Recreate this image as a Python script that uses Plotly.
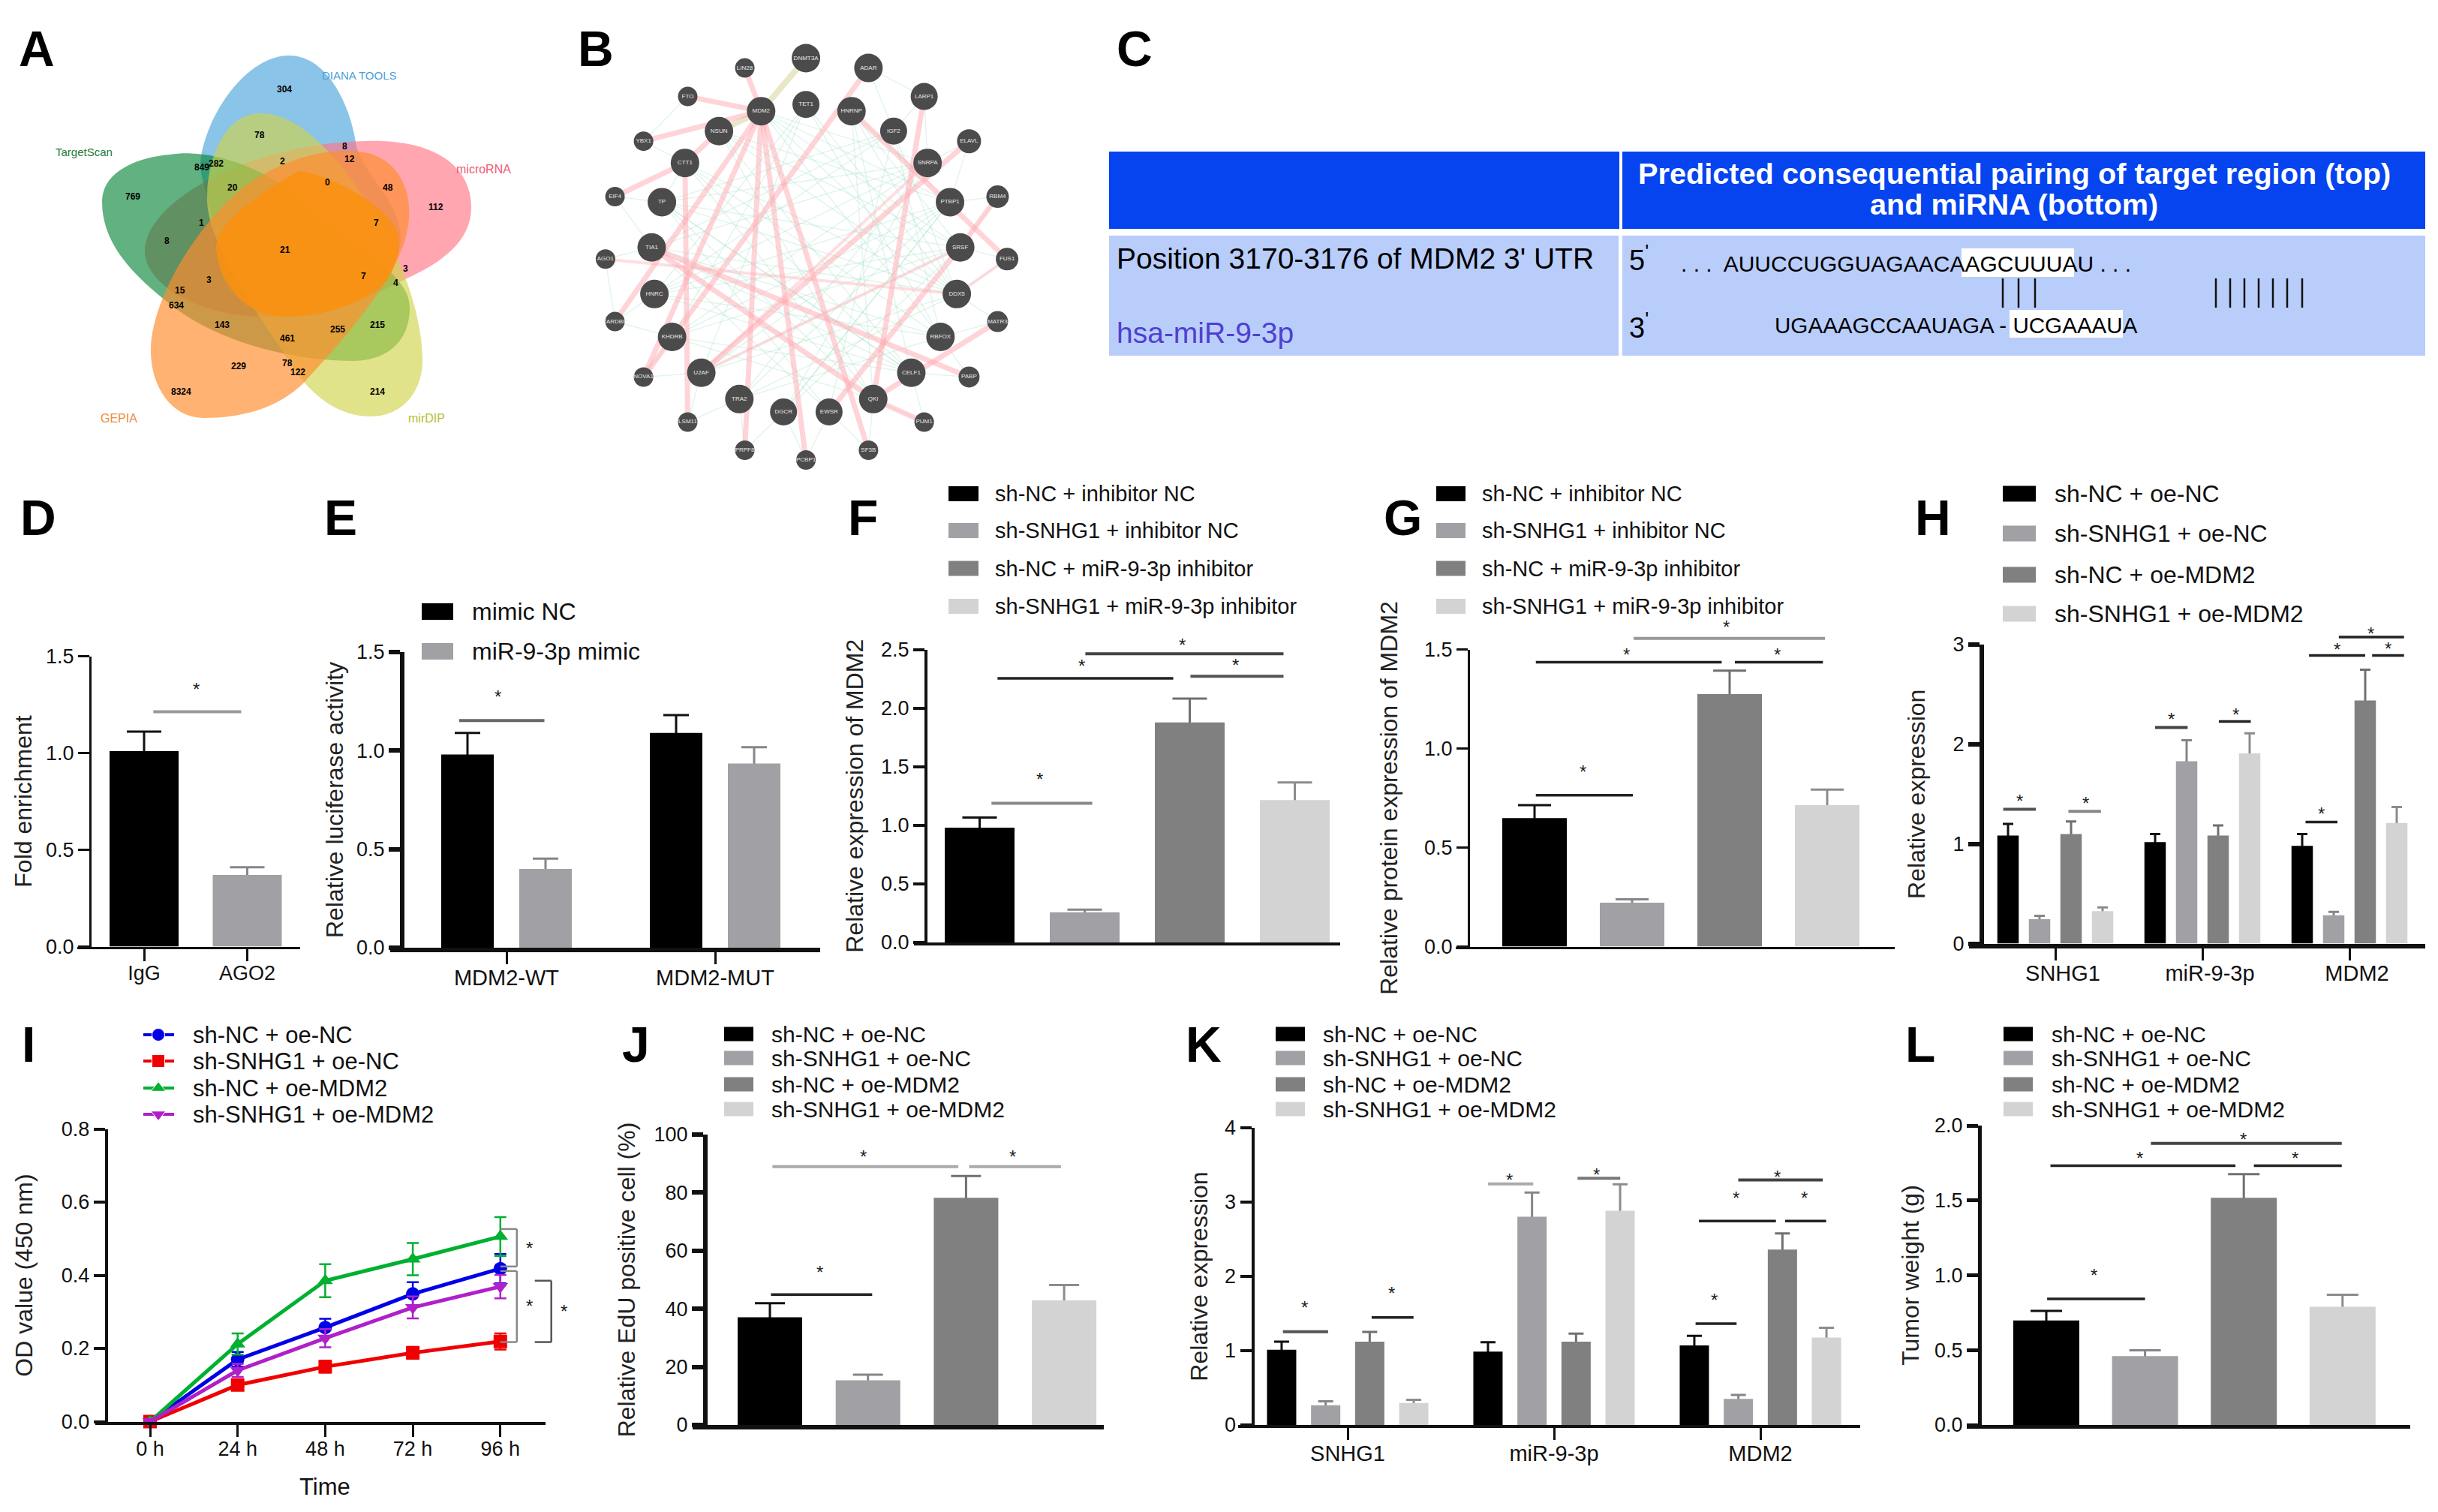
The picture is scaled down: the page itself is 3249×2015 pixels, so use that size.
import plotly.graph_objects as go

W, H = 3249, 2015
FONT = "Liberation Sans"

# ---------- data ----------
D_cats = ["IgG", "AGO2"]
D_vals = [1.01, 0.37]
D_errs = [0.10, 0.04]
E_cats = ["MDM2-WT", "MDM2-MUT"]
E_names = ["mimic NC", "miR-9-3p mimic"]
E_vals = [[0.98, 1.09], [0.40, 0.935]]
E_errs = [[0.11, 0.09], [0.052, 0.082]]
F_names = ["sh-NC + inhibitor NC", "sh-SNHG1 + inhibitor NC", "sh-NC + miR-9-3p inhibitor", "sh-SNHG1 + miR-9-3p inhibitor"]
F_vals = [0.98, 0.257, 1.877, 1.214]
F_errs = [0.086, 0.023, 0.203, 0.152]
G_vals = [0.649, 0.2215, 1.275, 0.714]
G_errs = [0.065, 0.017, 0.118, 0.079]
OE_names = ["sh-NC + oe-NC", "sh-SNHG1 + oe-NC", "sh-NC + oe-MDM2", "sh-SNHG1 + oe-MDM2"]
H_cats = ["SNHG1", "miR-9-3p", "MDM2"]
H_vals = [[1.085, 1.018, 0.98], [0.245, 1.83, 0.285], [1.10, 1.085, 2.44], [0.326, 1.908, 1.21]]
H_errs = [[0.115, 0.082, 0.12], [0.034, 0.21, 0.034], [0.126, 0.10, 0.308], [0.037, 0.202, 0.16]]
I_time = ["0 h", "24 h", "48 h", "72 h", "96 h"]
I_vals = [[0, 0.17, 0.257, 0.349, 0.418], [0, 0.10, 0.15, 0.188, 0.219],
          [0, 0.212, 0.385, 0.444, 0.506], [0, 0.14, 0.228, 0.312, 0.369]]
I_errs = [[0.005, 0.02, 0.024, 0.032, 0.04], [0.005, 0.012, 0.016, 0.016, 0.022],
          [0.005, 0.029, 0.045, 0.044, 0.053], [0.005, 0.018, 0.025, 0.03, 0.032]]
J_vals = [37.1, 15.4, 78.2, 42.9]
J_errs = [4.8, 1.9, 7.5, 5.3]
K_cats = ["SNHG1", "miR-9-3p", "MDM2"]
K_vals = [[1.013, 0.987, 1.07], [0.265, 2.804, 0.352], [1.122, 1.122, 2.361], [0.296, 2.883, 1.178]]
K_errs = [[0.109, 0.126, 0.13], [0.052, 0.326, 0.052], [0.13, 0.108, 0.217], [0.043, 0.356, 0.131]]
L_vals = [0.698, 0.46, 1.518, 0.79]
L_errs = [0.064, 0.039, 0.158, 0.08]

BAR_COLORS = ["#000000", "#a0a0a5", "#808080", "#d3d3d3"]
ERR_COLORS = ["#111111", "#85858a", "#707070", "#8c8c8c"]
LINE_COLORS = ["#0000e6", "#f00000", "#00b030", "#b020c8"]
LINE_SYMBOLS = ["circle", "square", "triangle-up", "triangle-down"]

# Venn panel
VENN_NUMBERS = [("304",418,292),("78",382,441),("8",507,477),("12",515,520),("2",416,526),("282",318,533),
    ("849",297,547),("20",342,613),("0",482,596),("48",571,612),("112",641,675),("769",195,641),("1",297,728),
    ("7",554,728),("8",246,786),("21",420,815),("3",597,877),("7",535,901),("4",583,924),("3",308,915),
    ("15",265,948),("634",260,997),("143",327,1062),("215",555,1062),("255",497,1075),("461",423,1106),
    ("229",351,1195),("78",423,1186),("122",438,1215),("8324",267,1278),("214",555,1278)]
VENN_LABELS = [("DIANA TOOLS",529,246,"#4a9fd8",15),("TargetScan",124,495,"#1f7a3c",15),("microRNA",712,552,"#f05a70",16),
    ("GEPIA",175,1365,"#f08a3c",16),("mirDIP",628,1365,"#b8bc30",16)]
VENN_PETALS = [
 ("rgba(76,164,220,0.65)", "M385,74 C440,74 470,150 475,196 C490,240 534,270 534,318 C534,370 460,422 380,422 C320,422 285,360 285,314 C285,270 265,240 267,216 C275,150 330,74 385,74 Z"),
 ("rgba(255,118,133,0.65)", "M489,188 C570,185 628,215 628,277 C628,320 590,350 540,372 C480,405 400,422 360,422 C270,425 193,380 193,335 C193,265 340,190 489,188 Z"),
 ("rgba(0,130,50,0.62)", "M226,206 C300,195 380,240 430,290 C490,340 546,370 546,410 C546,460 510,481 470,481 C400,481 290,460 220,400 C170,360 136,320 136,269 C136,230 180,210 226,206 Z"),
 ("rgba(207,212,76,0.65)", "M346,151 C400,150 450,210 490,270 C530,330 565,420 563,485 C560,530 530,555 494,555 C450,555 410,525 385,480 C330,400 276,320 276,265 C276,210 300,152 346,151 Z"),
 ("rgba(255,141,46,0.68)", "M272,557 C225,557 200,510 201,465 C202,400 260,300 330,245 C390,205 450,195 490,204 C535,215 550,260 544,300 C535,370 450,460 405,510 C370,545 320,557 272,557 Z"),
 ("rgba(250,145,15,0.85)", "M398,228 C340,260 288,300 288,330 C290,370 320,422 380,422 C440,422 490,400 515,375 C530,350 534,330 530,310 C520,280 450,235 398,228 Z"),
]

# Network panel
NET_X = [1186,1096,1278,1012,1120,1186,1253,1360,947,1058,1315,1426,1008,1365,905,974,1398,1468,959,1413,891,1482,963,1408,905,1468,989,1384,947,1426,1032,1341,1088,1285,1012,1360,1153,1220,1096,1278,1186]
NET_Y = [190,222,222,315,363,341,363,315,461,428,428,461,532,532,642,660,660,642,808,808,846,846,960,960,1050,1050,1100,1100,1231,1231,1217,1217,1303,1303,1378,1378,1345,1345,1470,1470,1502]
NET_SIZE = [38,26,38,26,38,36,38,36,26,38,36,32,38,38,26,38,38,30,38,38,26,30,38,38,26,28,38,38,26,28,38,38,38,38,26,26,36,36,26,26,26]
NET_LABELS = ["DNMT3A","LIN28","ADAR","FTO","MDM2","TET1","HNRNP","LARP1","YBX1","NSUN","IGF2","ELAVL","CTT1","SNRPA","EIF4","TP","PTBP1","RBM4","TIA1","SRSF","AGO1","FUS1","HNRC","DDX5","TARDBP","MATR3","KHDRB","RBFOX","NOVA1","PABP","U2AF","CELF1","TRA2","QKI","LSM11","PUM1","DGCR","EWSR","PRPF8","SF3B","PCBP1"]
NET_PINK = [(4,1),(4,3),(4,8),(4,24),(4,28),(2,28),(12,34),(12,14),(4,38),(4,40),(4,39),(7,33),(11,30),(6,21),(19,37),(17,19),(18,29),(18,33),(25,33),(33,35),(9,12)]
NET_PINK_LIGHT = [(20,23),(30,13),(21,23),(30,19)]
NET_BEIGE = [(4,0),(4,9)]
NET_GREEN = [(3,8),(8,12),(12,15),(14,15),(14,18),(20,18),(20,24),(24,22),(24,26),(26,28),(28,30),(30,34),(34,32),(32,38),(38,36),(36,40),(40,37),(37,39),(39,33),(33,35),(35,31),(31,29),(29,27),(27,25),(25,23),(23,21),(21,19),(19,17),(17,16),(16,11),(11,13),(13,7),(7,10),(2,7),(2,10),(4,16),(4,13),(4,19),(4,23),(4,27),(6,16),(6,19),(6,23),(6,31),(6,33),(5,22),(5,26),(5,30),(9,16),(9,19),(9,23),(12,23),(12,27),(15,19),(15,23),(15,31),(18,23),(18,27),(18,31),(22,19),(22,16),(22,27),(22,31),(26,19),(26,13),(26,16),(26,31),(26,33),(30,16),(30,19),(30,23),(32,16),(32,13),(32,23),(32,27),(36,13),(36,19),(36,16),(37,10),(37,15),(37,18),(33,9),(33,12),(33,15),(31,9),(31,12),(31,15),(27,10),(27,5),(23,5),(23,10),(10,22),(10,18),(10,15),(13,18),(13,22),(13,15),(16,36)]

# ---------- zoom-to-figure helpers ----------
def z1(x, y): return x * 1420 / 1568, y * 640 / 1568
def z3(x, y): return x * 1800 / 1568, 620 + y * 700 / 1568
def z4(x, y): return 1800 + x * 1449 / 1568, 620 + y * 700 / 1568
def z5(x, y): return x * 1500 / 1568, 1340 + y * 675 / 1568
def z6(x, y): return 1500 + x * 1749 / 1568, 1340 + y * 675 / 1568

fig = go.Figure()
layout = dict(width=W, height=H, margin=dict(l=0, r=0, t=0, b=0, pad=0), paper_bgcolor="white", plot_bgcolor="rgba(0,0,0,0)",
              showlegend=False, barmode="overlay", font=dict(family=FONT, color="#111111"), template="none")
shapes, annots = [], []
OV = ("x50", "y50")
layout["xaxis50"] = dict(domain=[0, 1], range=[0, W], visible=False, fixedrange=True, anchor="y50", automargin=False)
layout["yaxis50"] = dict(domain=[0, 1], range=[H, 0], visible=False, fixedrange=True, anchor="x50", automargin=False)

def text(x, y, s, size, color="#111111", anchor="center", bold=False, angle=0):
    annots.append(dict(x=x, y=y, xref=OV[0], yref=OV[1], text=f"<b>{s}</b>" if bold else s, showarrow=False,
                       xanchor=anchor, yanchor="middle", textangle=angle,
                       font=dict(family=FONT, size=size, color=color)))

def rect(x0, y0, x1, y1, color):
    shapes.append(dict(type="rect", x0=x0, x1=x1, y0=y0, y1=y1, xref=OV[0], yref=OV[1], fillcolor=color, line=dict(width=0)))

def seg(x0, y0, x1, y1, color="#222222", w=3.5):
    shapes.append(dict(type="line", x0=x0, x1=x1, y0=y0, y1=y1, xref=OV[0], yref=OV[1], line=dict(color=color, width=w)))

def star(x, y, size=24):
    text(x, y + 6, "*", size, "#222222")

def sig(conv, items):
    for it in items:
        x1, x2, y, sx, sy = it[:5]
        c = it[5] if len(it) > 5 else "#222222"
        a, b = conv(x1, y)
        d, _ = conv(x2, y)
        seg(a, b, d, b, c, 4 if c != "#222222" else 3.5)
        star(*conv(sx, sy))

def legend(xs, sw, ys, sh, tx, names, size):
    for i, (n, y) in enumerate(zip(names, ys)):
        rect(xs, y - sh / 2, xs + sw, y + sh / 2, BAR_COLORS[i])
        text(tx, y, n, size, anchor="left")

n_ax = [0]
def axes(yx, xL, xR, y0, y1, yrange, ytick, yticktext, title, standoff, c0, pitch, cats=None, axw=4, tick_x=True, xfont=27, xshift=0):
    n_ax[0] += 1
    k = n_ax[0]
    layout[f"xaxis{k}"] = dict(domain=[xL / W, xR / W], anchor=f"y{k}", type="category", categoryorder="array",
        categoryarray=cats, range=[(xL - c0) / pitch, (xR - c0) / pitch], showgrid=False, zeroline=False,
        showline=True, linecolor="#111111", linewidth=axw, fixedrange=True, automargin=False,
        ticks="outside" if tick_x else "", ticklen=16, tickwidth=3, tickcolor="#111111", ticklabelstandoff=-7, ticklabelshift=xshift,
        showticklabels=tick_x, tickfont=dict(size=xfont, family=FONT, color="#111111"))
    layout[f"yaxis{k}"] = dict(domain=[1 - y0 / H, 1 - y1 / H], anchor="free", position=yx / W,
        range=yrange, showgrid=False, zeroline=False, showline=True, linecolor="#111111", linewidth=axw,
        fixedrange=True, automargin=False, ticks="outside", ticklen=15, tickwidth=axw, tickcolor="#111111", tickvals=ytick, ticktext=yticktext,
        tickfont=dict(size=27, family=FONT, color="#111111"),
        title=dict(text=title, standoff=standoff, font=dict(size=32, family=FONT, color="#222222")))
    return f"x{k}", f"y{k}"

def single(ax, cats, vals, errs, w_units, cap, colors=BAR_COLORS, ecolors=ERR_COLORS):
    for i, c in enumerate(cats):
        fig.add_trace(go.Bar(x=[c], y=[vals[i]], xaxis=ax[0], yaxis=ax[1], width=w_units, name=c + " error",
            marker=dict(color="rgba(0,0,0,0)", line=dict(width=0)), hoverinfo="skip",
            error_y=dict(type="data", array=[errs[i]], color=ecolors[i], thickness=3, width=cap)))
        fig.add_trace(go.Bar(x=[c], y=[vals[i]], xaxis=ax[0], yaxis=ax[1], width=w_units, name=c,
            marker=dict(color=colors[i], line=dict(width=0))))

def grouped(ax, cats, names, vals, errs, w_units, sp_units, cap):
    n = len(names)
    for j, nm in enumerate(names):
        off = (j - (n - 1) / 2) * sp_units - w_units / 2
        fig.add_trace(go.Bar(x=cats, y=vals[j], xaxis=ax[0], yaxis=ax[1], width=w_units, name=nm + " error", offset=off,
            marker=dict(color="rgba(0,0,0,0)", line=dict(width=0)), hoverinfo="skip",
            error_y=dict(type="data", array=errs[j], color=ERR_COLORS[j], thickness=3, width=cap)))
        fig.add_trace(go.Bar(x=cats, y=vals[j], xaxis=ax[0], yaxis=ax[1], width=w_units, name=nm, offset=off,
            marker=dict(color=BAR_COLORS[j], line=dict(width=0))))

# ---------- panel letters ----------
for s, x, y in [("A",23,65),("B",768,65),("C",1486,65),("D",25,690),("E",430,690),("F",1128,690),("G",1842,690),
                ("H",2550,690),("I",27,1392),("J",827,1392),("K",1578,1392),("L",2537,1392)]:
    text(x, y, s, 66, "#000000", "left", True)

# ---------- A: Venn ----------
for color, path in VENN_PETALS:
    shapes.append(dict(type="path", path=path, xref=OV[0], yref=OV[1], fillcolor=color, line=dict(width=0), layer="below"))
for s, x, y in VENN_NUMBERS:
    text(*z1(x, y), s, 12, "#000000", bold=True)
for s, x, y, c, sz in VENN_LABELS:
    text(*z1(x, y), s, sz, c)

# ---------- B: network ----------
nx = [z1(a, b)[0] for a, b in zip(NET_X, NET_Y)]
ny = [z1(a, b)[1] for a, b in zip(NET_X, NET_Y)]
def edges(pairs, color, w):
    xs, ys = [], []
    for a, b in pairs:
        xs += [nx[a], nx[b], None]
        ys += [ny[a], ny[b], None]
    fig.add_trace(go.Scatter(x=xs, y=ys, mode="lines", xaxis=OV[0], yaxis=OV[1], line=dict(color=color, width=w), hoverinfo="skip"))
edges(NET_GREEN, "rgba(165,225,200,0.32)", 1.5)
edges(NET_PINK_LIGHT, "rgba(255,190,195,0.5)", 4)
edges(NET_BEIGE, "rgba(232,228,195,0.9)", 8)
edges(NET_PINK, "rgba(255,170,178,0.5)", 7)
fig.add_trace(go.Scatter(x=nx, y=ny, mode="markers+text", xaxis=OV[0], yaxis=OV[1], text=NET_LABELS, textposition="middle center",
    textfont=dict(size=8, color="#e8e8e8", family=FONT), marker=dict(color="#4b4b4b", size=NET_SIZE, opacity=1, line=dict(width=0))))

# ---------- C: table ----------
rect(1478, 202, 2158, 305, "#0644ef")
rect(2162, 202, 3232, 305, "#0644ef")
rect(1478, 314, 2157, 474, "#b9cdfb")
rect(2162, 314, 3232, 474, "#b9cdfb")
rect(2614, 331, 2764, 369, "#ffffff")
rect(2678, 413, 2829, 450, "#ffffff")
text(2684, 231, "Predicted consequential pairing of target region (top)", 39.7, "#ffffff", bold=True)
text(2684, 272, "and miRNA (bottom)", 39.7, "#ffffff", bold=True)
text(1486, 344, "Position 3170-3176 of MDM2 3' UTR", 39, "#000000", "left")
text(1486, 443, "hsa-miR-9-3p", 39, "#4f3fd0", "left")
text(2169, 344, "5<sup>'</sup>", 38, "#000000", "left")
text(2169, 434, "3<sup>'</sup>", 38, "#000000", "left")
text(2238, 351, ". . .  AUUCCUGGUAGAACAAGCUUUAU . . .", 30, "#000000", "left")
text(2363, 433, "UGAAAGCCAAUAGA - UCGAAAUA", 29.6, "#000000", "left")
for x in [2669, 2690, 2712, 2953, 2972, 2991, 3010, 3029, 3048, 3068]:
    seg(x, 371, x, 410, "#111111", 2.5)

# ---------- D ----------
ax = axes(120, 103, 400, 1261.5, 874.5, [0, 1.5], [0, .5, 1, 1.5], ["0.0", "0.5", "1.0", "1.5"], "Fold enrichment", 7, 192, 137.5, D_cats, 3)
single(ax, D_cats, D_vals, D_errs, 92 / 137.5, 23)
sig(z3, [(178, 280, 736, 228, 655, "#999999")])

# ---------- E ----------
ax = axes(536, 520, 1093, 1263, 869, [0, 1.5], [0, .5, 1, 1.5], ["0.0", "0.5", "1.0", "1.5"], "Relative luciferase activity", 7, 675, 278, E_cats, 6, True, 29)
grouped(ax, E_cats, E_names, E_vals, E_errs, 70 / 278, 104 / 278, 17)
sig(z3, [(533, 632, 762, 578, 678, "#666666")])
legend(562, 42, [815, 868], 22, 627, E_names, 32)

# ---------- F ----------
ax = axes(1234, 1218, 1786, 1256, 865.5, [0, 2.5], [0, .5, 1, 1.5, 2, 2.5], ["0.0", "0.5", "1.0", "1.5", "2.0", "2.5"],
          "Relative expression of MDM2", 13, 1305.5, 140, F_names, 4, False)
single(ax, F_names, F_vals, F_errs, 93 / 140, 23)
sig(z3, [(1151, 1268, 1009, 1207, 925, "#888888"), (1158, 1362, 636, 1256, 585), (1382, 1490, 630, 1434, 583, "#555555"), (1260, 1490, 563, 1372, 522, "#444444")])
legend(1264, 40, [658, 707, 757.5, 808], 20, 1324, F_names, 29)

# ---------- G ----------
ax = axes(1957, 1940, 2525, 1261.5, 865.5, [0, 1.5], [0, .5, 1, 1.5], ["0.0", "0.5", "1.0", "1.5"],
          "Relative protein expression of MDM2", 24, 2045, 130, F_names, 3, False)
single(ax, F_names, G_vals, G_errs, 86 / 130, 22)
sig(z4, [(267, 407, 985, 335, 902), (267, 535, 588, 398, 553), (554, 681, 588, 615, 553), (408, 684, 517, 542, 470, "#999999")])
legend(1914, 39, [658, 707, 757.5, 808], 20, 1973, F_names, 29)

# ---------- H ----------
ax = axes(2641, 2624, 3232, 1257.5, 859, [0, 3], [0, 1, 2, 3], ["0", "1", "2", "3"], "Relative expression", 26, 2739, 196, H_cats, 6, True, 29, 10)
grouped(ax, H_cats, OE_names, H_vals, H_errs, 28.5 / 196, 42 / 196, 7)
sig(z4, [(941, 988, 1027, 965, 990, "#555555"), (1035, 1082, 1033, 1060, 995, "#888888"), (1160, 1207, 783, 1183, 745, "#444444"),
         (1252, 1298, 765, 1276, 732), (1377, 1423, 1065, 1400, 1028), (1382, 1463, 568, 1422, 537), (1473, 1519, 568, 1496, 535), (1425, 1519, 513, 1471, 490)])
legend(2669, 44, [658, 711, 766, 818], 21, 2736, OE_names, 32)

# ---------- I ----------
ax = axes(141.6, 127, 727, 1894.5, 1504.5, [0, 0.8], [0, .2, .4, .6, .8], ["0.0", "0.2", "0.4", "0.6", "0.8"], "OD value (450 nm)", 27, 200, 116.7, I_time, 4)
for j, nm in enumerate(OE_names):
    fig.add_trace(go.Scatter(x=I_time, y=I_vals[j], name=nm, xaxis=ax[0], yaxis=ax[1], mode="lines+markers", cliponaxis=False,
        line=dict(color=LINE_COLORS[j], width=5), marker=dict(color=LINE_COLORS[j], symbol=LINE_SYMBOLS[j], size=18),
        error_y=dict(type="data", array=I_errs[j], color=LINE_COLORS[j], thickness=2.5, width=8)))
    y = [1379, 1414, 1450, 1485][j]
    fig.add_trace(go.Scatter(x=[191, 211, 232], y=[y, y, y], xaxis=OV[0], yaxis=OV[1], mode="lines+markers", hoverinfo="skip",
        line=dict(color=LINE_COLORS[j], width=4), marker=dict(color=LINE_COLORS[j], symbol=LINE_SYMBOLS[j], size=[0, 17, 0], opacity=1)))
    text(255, y, nm, 31, anchor="left")
text(433, 1981, "Time", 31)
def bracket(x0, x1, y0, y1, c):
    a, b = z5(x0, y0); d, e = z5(x1, y1)
    seg(a, b, d, b, c, 2.5); seg(d, b, d, e, c, 2.5); seg(d, e, a, e, c, 2.5)
bracket(697, 720, 692, 808, "#888888")
bracket(697, 720, 822, 1042, "#888888")
bracket(745, 768, 852, 1042, "#555555")
star(*z5(737, 738)); star(*z5(737, 917)); star(*z5(786, 932))

# ---------- J ----------
ax = axes(940, 923, 1471, 1899, 1512, [0, 100], [0, 20, 40, 60, 80, 100], ["0", "20", "40", "60", "80", "100"], "Relative EdU positive cell (%)", 14, 1026, 130.7, OE_names, 6, False)
single(ax, OE_names, J_vals, J_errs, 86 / 130.7, 20)
sig(z5, [(1074, 1215, 895, 1142, 812), (1076, 1335, 499, 1203, 455, "#aaaaaa"), (1350, 1478, 499, 1411, 455, "#aaaaaa")])
legend(965, 39, [1378, 1410, 1445, 1478], 19, 1026, OE_names, 30)

# ---------- K ----------
ax = axes(1669.5, 1650, 2479, 1899, 1503, [0, 4], [0, 1, 2, 3, 4], ["0", "1", "2", "3", "4"], "Relative expression", 12, 1796, 275, K_cats, 4, True, 29)
grouped(ax, K_cats, OE_names, K_vals, K_errs, 39 / 275, 58.7 / 275, 10)
sig(z6, [(188, 242, 1010, 214, 922, "#555555"), (294, 344, 966, 318, 878), (433, 487, 552, 459, 527, "#aaaaaa"), (540, 591, 535, 563, 510, "#777777"),
         (681, 730, 985, 703, 897), (685, 777, 667, 729, 582), (788, 837, 667, 811, 582), (732, 833, 540, 779, 517, "#444444")])
legend(1700, 39, [1378, 1410, 1445, 1478], 19, 1761, OE_names, 30)

# ---------- L ----------
ax = axes(2638, 2621, 3212, 1899, 1500, [0, 2], [0, .5, 1, 1.5, 2], ["0.0", "0.5", "1.0", "1.5", "2.0"], "Tumor weight (g)", 9, 2727, 131.6, OE_names, 5, False)
single(ax, OE_names, L_vals, L_errs, 88 / 131.6, 21)
sig(z6, [(1101, 1218, 908, 1157, 822), (1105, 1326, 496, 1212, 458), (1348, 1453, 496, 1397, 458), (1225, 1453, 427, 1335, 400, "#444444")])
legend(2670, 39, [1378, 1410, 1445, 1478], 19, 2732, OE_names, 30)

layout["shapes"] = shapes
layout["annotations"] = annots
fig.update_layout(**layout)
fig.write_html("out.html", config=dict(displayModeBar=False), post_script="document.body.style.margin='0';")
